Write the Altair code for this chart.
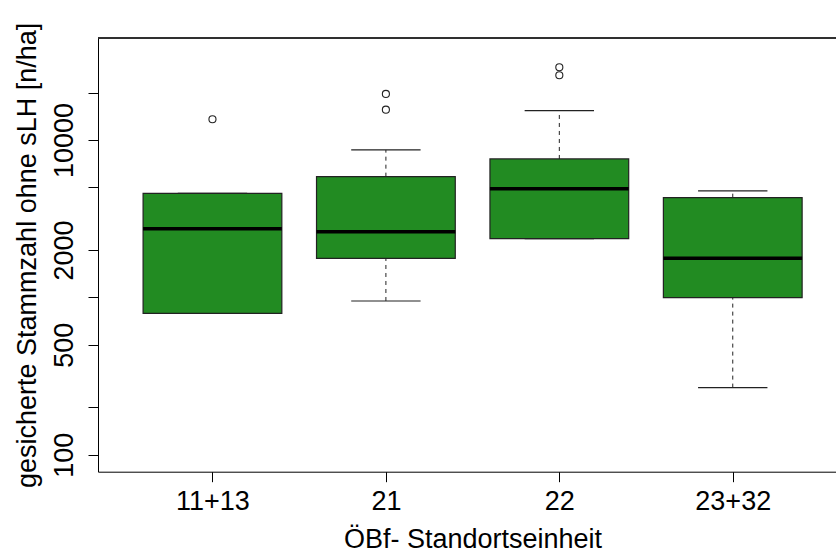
import altair as alt
import pandas as pd

# ---- data ----
groups = ["11+13", "21", "22", "23+32"]
q1 = [792, 1771, 2360, 995]
median = [2731, 2614, 4902, 1771]
q3 = [4584, 5846, 7573, 4298]
whisker_lo = [792, 948, 2360, 267]
whisker_hi = [4584, 8640, 15360, 4742]
outlier_group = ["11+13", "21", "21", "22", "22"]
outlier_value = [13540, 15580, 19610, 25780, 28970]

y_tick_values = [100, 200, 500, 1000, 2000, 5000, 10000, 20000]
y_tick_labels = ["100", "", "500", "", "2000", "", "10000", ""]

boxwex = 0.8
staplewex = 0.5

box_df = pd.DataFrame({
    "group": groups,
    "pos": [i + 1 for i in range(len(groups))],
    "q1": q1, "median": median, "q3": q3,
    "wlo": whisker_lo, "whi": whisker_hi,
})
box_df["xl"] = box_df["pos"] - boxwex / 2
box_df["xr"] = box_df["pos"] + boxwex / 2
box_df["sl"] = box_df["pos"] - boxwex * staplewex / 2
box_df["sr"] = box_df["pos"] + boxwex * staplewex / 2

out_df = pd.DataFrame({
    "group": outlier_group,
    "value": outlier_value,
})
out_df["pos"] = out_df["group"].map({g: i + 1 for i, g in enumerate(groups)})

W = 738
H = 433.7
FONT = "Liberation Sans"
FS = 27

xscale = alt.Scale(domain=[0.34, 0.34 + W / 173.43], nice=False, zero=False)
yscale = alt.Scale(type="log", domain=[78.0, 44460], nice=False)

x_label_expr = "[" + ",".join("'" + g + "'" for g in groups) + "][datum.value - 1]"
y_label_expr = ("{" + ",".join("'%d':'%s'" % (v, l) for v, l in zip(y_tick_values, y_tick_labels))
                + "}[''+datum.value]")

x_axis = alt.Axis(
    values=[i + 1 for i in range(len(groups))], labelExpr=x_label_expr,
    title="ÖBf- Standortseinheit", grid=False,
    domainColor="black", tickColor="black", tickSize=10, labelPadding=7,
    labelFont=FONT, labelFontSize=FS, labelColor="black", labelOverlap=False,
    labelFlush=False, titleFont=FONT, titleFontSize=FS, titleFontWeight="normal",
    titleColor="black", titleX=374.5, titleY=75.6, titleAlign="center",
    titleBaseline="alphabetic", titleAngle=0,
)
y_axis = alt.Axis(
    values=y_tick_values, labelExpr=y_label_expr,
    title="gesicherte Stammzahl ohne sLH [n/ha]", grid=False,
    domainColor="black", tickColor="black", tickSize=10, labelPadding=16,
    labelAngle=270, labelAlign="center", labelBaseline="alphabetic",
    labelFont=FONT, labelFontSize=FS, labelColor="black", labelOverlap=False,
    labelFlush=False, titleFont=FONT, titleFontSize=FS, titleFontWeight="normal",
    titleColor="black", titleX=-63, titleY=H / 2, titleAlign="center",
    titleBaseline="alphabetic", titleAngle=270,
)


def X(field):
    return alt.X(field, scale=xscale, axis=x_axis)


def Y(field):
    return alt.Y(field, scale=yscale, axis=y_axis)


base = alt.Chart(box_df)
LINE = "#222222"

boxes = base.mark_rect(fill="#228B22", stroke=LINE, strokeWidth=1.2).encode(
    x=X("xl:Q"), x2="xr:Q", y=Y("q1:Q"), y2="q3:Q",
)
whisk_up = base.mark_rule(color=LINE, strokeWidth=1, strokeDash=[4, 4]).encode(
    x=X("pos:Q"), y=Y("q3:Q"), y2="whi:Q",
)
whisk_lo = base.mark_rule(color=LINE, strokeWidth=1, strokeDash=[4, 4]).encode(
    x=X("pos:Q"), y=Y("wlo:Q"), y2="q1:Q",
)
staple_up = base.mark_rule(color=LINE, strokeWidth=1.2).encode(
    x=X("sl:Q"), x2="sr:Q", y=Y("whi:Q"),
)
staple_lo = base.mark_rule(color=LINE, strokeWidth=1.2).encode(
    x=X("sl:Q"), x2="sr:Q", y=Y("wlo:Q"),
)
med = base.mark_rule(color="black", strokeWidth=3.5).encode(
    x=X("xl:Q"), x2="xr:Q", y=Y("median:Q"),
)
outl = alt.Chart(out_df).mark_point(shape="circle", filled=False, color=LINE,
                                    strokeWidth=1.1, size=50, opacity=1).encode(
    x=X("pos:Q"), y=Y("value:Q"),
)
top_line = alt.Chart(box_df).mark_rule(color=LINE, strokeWidth=1).encode(
    x=alt.value(0), x2=alt.value(W), y=alt.value(0),
)

chart = alt.layer(
    whisk_up, whisk_lo, staple_up, staple_lo, boxes, med, outl, top_line
).properties(
    width=W, height=H,
    autosize=alt.AutoSizeParams(type="none"),
    padding={"left": 98, "top": 38, "right": 0, "bottom": 81.3},
    background="white",
).configure_view(stroke=None)

chart.save("out.html", embed_options={"renderer": "svg", "actions": False})
